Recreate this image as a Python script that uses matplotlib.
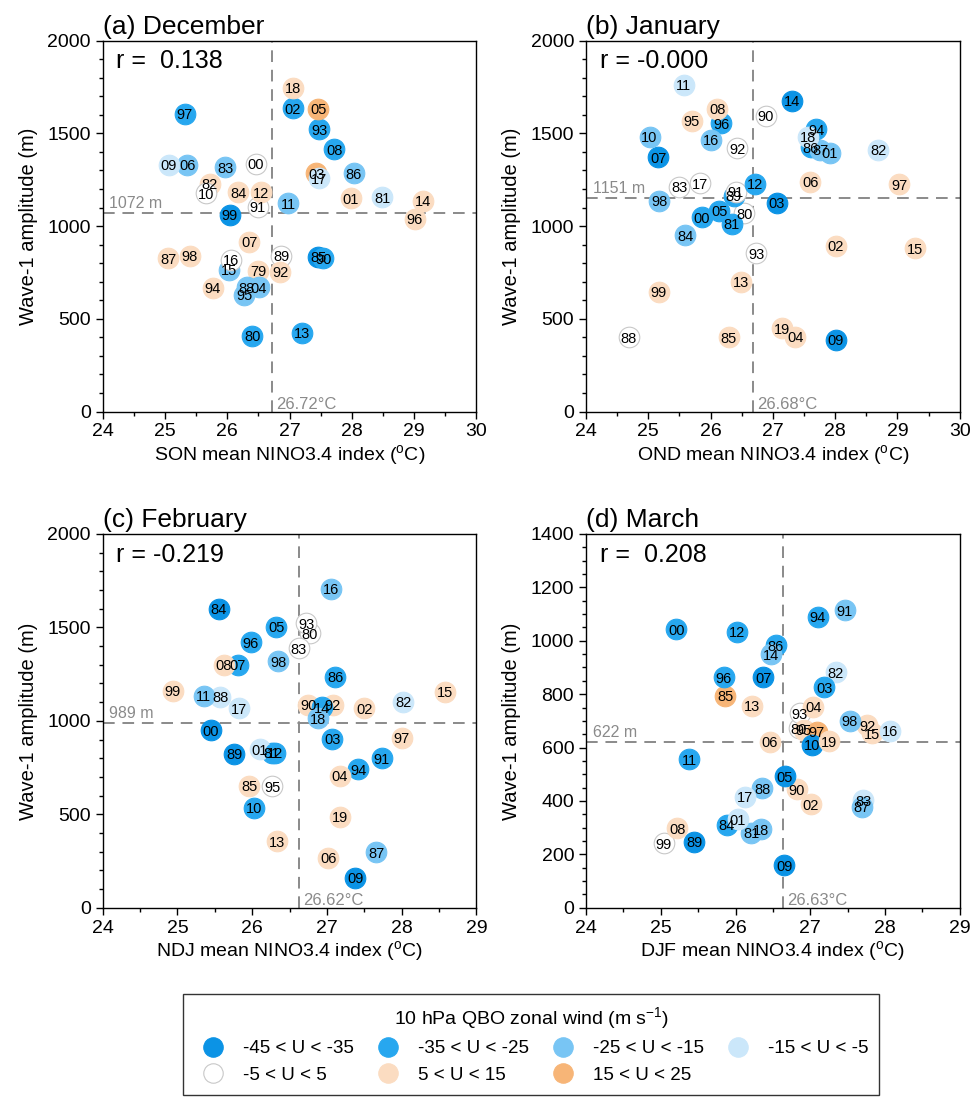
import numpy as np
import matplotlib
matplotlib.use('Agg')
import matplotlib.pyplot as plt
from matplotlib.ticker import MultipleLocator
from matplotlib.lines import Line2D

plt.rcParams['font.family'] = 'Liberation Sans'
plt.rcParams['mathtext.fontset'] = 'custom'
plt.rcParams['mathtext.rm'] = 'Liberation Sans'
plt.rcParams['mathtext.it'] = 'Liberation Sans:italic'

############################ QBO classes (10 hPa) #############################
qbo_names = ['-45 < U < -35', '-35 < U < -25', '-25 < U < -15', '-15 < U < -5',
             '-5 < U < 5', '5 < U < 15', '15 < U < 25']
qbo_colors = ['#0b93e5', '#27a7ef', '#78c5f4', '#cbe7fa', '#ffffff', '#fbdcc1', '#f7b577']

################################# December ####################################
yr_dec = ['79','80','81','82','83','84','85','86','87','88','89','90','91','92',
          '93','94','95','96','97','98','99','00','01','02','03','04','05','06',
          '07','08','09','10','11','12','13','14','15','16','17','18']
nino_dec = [26.50, 26.40, 28.49, 25.72, 25.97, 26.18, 27.46, 28.03, 25.05, 26.31,
            26.87, 27.54, 26.49, 26.85, 27.48, 25.77, 26.27, 29.01, 25.32, 25.40,
            26.04, 26.46, 27.98, 27.05, 27.43, 26.51, 27.46, 25.36, 26.35, 27.72,
            25.06, 25.66, 26.98, 26.54, 27.20, 29.14, 26.02, 26.06, 27.47, 27.06]
amp_dec = [760, 409, 1156, 1228, 1318, 1183, 835, 1285, 827, 670,
           839, 827, 1105, 755, 1523, 668, 629, 1039, 1605, 839,
           1060, 1336, 1150, 1636, 1285, 670, 1632, 1330, 916, 1415,
           1330, 1177, 1123, 1183, 425, 1136, 764, 818, 1258, 1747]
qbo_dec = [5, 1, 3, 5, 2, 5, 0, 2, 5, 2, 4, 1, 4, 5, 1, 5, 2, 5, 1, 5,
           0, 4, 5, 1, 6, 2, 6, 2, 5, 1, 3, 4, 2, 5, 1, 5, 2, 4, 3, 5]

################################# January #####################################
yr_jfm = ['80','81','82','83','84','85','86','87','88','89','90','91','92','93',
          '94','95','96','97','98','99','00','01','02','03','04','05','06','07',
          '08','09','10','11','12','13','14','15','16','17','18','19']
nino_jan = [26.54, 26.34, 28.69, 25.50, 25.59, 26.29, 27.61, 27.76, 24.69, 26.37,
            26.89, 26.40, 26.43, 26.73, 27.70, 25.70, 26.17, 29.03, 25.18, 25.17,
            25.86, 27.91, 28.01, 27.06, 27.36, 26.14, 27.60, 25.16, 26.11, 28.01,
            25.02, 25.57, 26.71, 26.49, 27.30, 29.28, 26.00, 25.83, 27.57, 27.14]
amp_jan = [1070, 1012, 1411, 1213, 952, 400, 1426, 1411, 400, 1163,
           1595, 1186, 1420, 854, 1523, 1568, 1555, 1226, 1138, 647,
           1048, 1397, 895, 1127, 404, 1084, 1240, 1372, 1632, 386,
           1483, 1762, 1228, 701, 1677, 881, 1465, 1231, 1483, 449]
qbo_jan = [4, 1, 3, 4, 2, 5, 1, 2, 4, 1, 4, 4, 4, 4, 1, 5, 1, 5, 2, 5,
           1, 2, 5, 0, 5, 1, 5, 0, 5, 0, 2, 3, 1, 5, 0, 5, 2, 4, 3, 5]

################################# February ####################################
nino_feb = [26.77, 26.26, 28.02, 26.62, 25.55, 25.96, 27.11, 27.66, 25.57, 25.76,
            26.75, 27.73, 27.08, 26.72, 27.42, 26.27, 25.98, 28.00, 26.35, 24.94,
            25.45, 26.10, 27.50, 27.07, 27.17, 26.32, 27.02, 25.81, 25.62, 27.38,
            26.02, 25.35, 26.31, 26.33, 26.94, 28.58, 27.05, 25.83, 26.88, 27.17]
amp_feb = [1468, 830, 1103, 1388, 1599, 653, 1236, 296, 1129, 823,
           1085, 799, 1085, 1522, 742, 651, 1420, 910, 1320, 1161,
           951, 849, 1067, 903, 705, 1504, 268, 1299, 1299, 161,
           535, 1133, 830, 357, 1072, 1156, 1706, 1067, 1014, 487]
qbo_feb = [4, 1, 3, 4, 0, 5, 1, 2, 3, 0, 5, 1, 5, 4, 1, 4, 1, 5, 2, 5,
           0, 3, 5, 1, 5, 1, 5, 1, 5, 0, 1, 2, 1, 5, 1, 5, 2, 3, 2, 5]

################################## March ######################################
nino_mar = [26.85, 26.21, 27.34, 27.71, 25.88, 25.86, 26.54, 27.69, 26.36, 25.45,
            26.82, 27.46, 27.76, 26.86, 27.10, 26.91, 25.84, 27.09, 27.53, 25.04,
            25.21, 26.03, 27.01, 27.19, 27.04, 26.66, 26.46, 26.37, 25.22, 26.65,
            27.02, 25.38, 26.02, 26.22, 26.48, 27.82, 28.06, 26.13, 26.34, 27.25]
amp_mar = [672, 281, 882, 403, 310, 794, 984, 378, 447, 247,
           443, 1115, 684, 728, 1090, 666, 863, 659, 701, 241,
           1043, 331, 387, 826, 753, 493, 622, 863, 297, 160,
           610, 556, 1034, 757, 949, 653, 662, 416, 294, 624]
qbo_mar = [4, 2, 3, 3, 1, 6, 1, 2, 2, 0, 5, 2, 5, 4, 1, 5, 1, 6, 2, 4,
           1, 3, 5, 1, 5, 0, 5, 0, 5, 0, 0, 1, 1, 5, 2, 5, 3, 3, 2, 5]

titles = ['(a) December', '(b) January', '(c) February', '(d) March']
seasons = ['SON', 'OND', 'NDJ', 'DJF']
r_text = ['r =  0.138', 'r = -0.000', 'r = -0.219', 'r =  0.208']
nino_mean = [26.72, 26.68, 26.62, 26.63]
amp_mean = [1072, 1151, 989, 622]
xmax = [30, 30, 29, 29]
ymax = [2000, 2000, 2000, 1400]

panels = [(yr_dec, nino_dec, amp_dec, qbo_dec),
          (yr_jfm, nino_jan, amp_jan, qbo_jan),
          (yr_jfm, nino_feb, amp_feb, qbo_feb),
          (yr_jfm, nino_mar, amp_mar, qbo_mar)]

pos = [[0.1053, 0.6289, 0.3834, 0.3344], [0.6010, 0.6289, 0.3834, 0.3344],
       [0.1053, 0.1815, 0.3834, 0.3370], [0.6010, 0.1815, 0.3834, 0.3370]]

gray = '#8a8a8a'

fig = plt.figure(figsize=(9.75, 11.09), dpi=100)
for n in range(4):
    yrs, xx, yy, qq = panels[n]
    ax = fig.add_axes(pos[n])
    ax.set_xlim(24, xmax[n])
    ax.set_ylim(0, ymax[n])
    # dashed lines at the means
    ax.axhline(amp_mean[n], color=gray, lw=1.4, ls=(0, (6, 4)), zorder=1)
    ax.axvline(nino_mean[n], color=gray, lw=1.4, ls=(0, (6, 4)), zorder=1)
    ax.annotate('%d m' % amp_mean[n], xy=(0.018, amp_mean[n]),
                xycoords=ax.get_yaxis_transform(), xytext=(0, 1.5),
                textcoords='offset points', ha='left', va='bottom',
                color=gray, fontsize=11.5)
    ax.annotate('%.2f°C' % nino_mean[n], xy=(nino_mean[n], 0),
                xycoords=ax.get_xaxis_transform(), xytext=(3, 0),
                textcoords='offset points', ha='left', va='bottom',
                color=gray, fontsize=12)
    for i in range(len(yrs)):
        c = qbo_colors[qq[i]]
        ec = '#c8c8c8' if qq[i] == 4 else c
        ax.scatter(xx[i], yy[i], s=220, c=c, edgecolors=ec, linewidths=0.8, zorder=3)
    for i in range(len(yrs)):
        ax.text(xx[i], yy[i], yrs[i], ha='center', va='center_baseline',
                fontsize=10.5, zorder=4)
    ax.text(0.037, 0.945, r_text[n], transform=ax.transAxes, ha='left',
            va='center', fontsize=18)
    ax.set_title(titles[n], loc='left', fontsize=19, pad=5)
    ax.set_xlabel(seasons[n] + ' mean NINO3.4 index ($^{\\rm o}$C)', fontsize=14, labelpad=2)
    ax.set_ylabel('Wave-1 amplitude (m)', fontsize=14.5, labelpad=7)
    ax.xaxis.set_major_locator(MultipleLocator(1))
    ax.xaxis.set_minor_locator(MultipleLocator(0.5))
    if ymax[n] == 2000:
        ax.yaxis.set_major_locator(MultipleLocator(500))
        ax.yaxis.set_minor_locator(MultipleLocator(100))
    else:
        ax.yaxis.set_major_locator(MultipleLocator(200))
        ax.yaxis.set_minor_locator(MultipleLocator(50))
    ax.tick_params(which='both', direction='out', top=False, right=False, labelsize=14)
    ax.tick_params(which='major', length=5, width=1)
    ax.tick_params(which='minor', length=3, width=1)
    for axis in ['top', 'bottom', 'left', 'right']:
        ax.spines[axis].set_linewidth(1.0)

handles = []
for k in range(7):
    ec = '#c8c8c8' if k == 4 else qbo_colors[k]
    handles.append(Line2D([], [], ls='', marker='o', markersize=14,
                          markerfacecolor=qbo_colors[k], markeredgecolor=ec,
                          markeredgewidth=0.8, label=qbo_names[k]))
order = [0, 4, 1, 5, 2, 6, 3]
leg = fig.legend(handles=[handles[k] for k in order], loc='lower center',
                 bbox_to_anchor=(0.545, 0.004), ncol=4, fontsize=13.5,
                 title='10 hPa QBO zonal wind (m s$^{-1}$)', title_fontsize=14,
                 frameon=True, fancybox=False, edgecolor='black',
                 columnspacing=0.8, handletextpad=0.6, borderpad=0.6,
                 labelspacing=0.5)
leg.get_frame().set_linewidth(1.0)

plt.savefig('out.png', dpi=100)
